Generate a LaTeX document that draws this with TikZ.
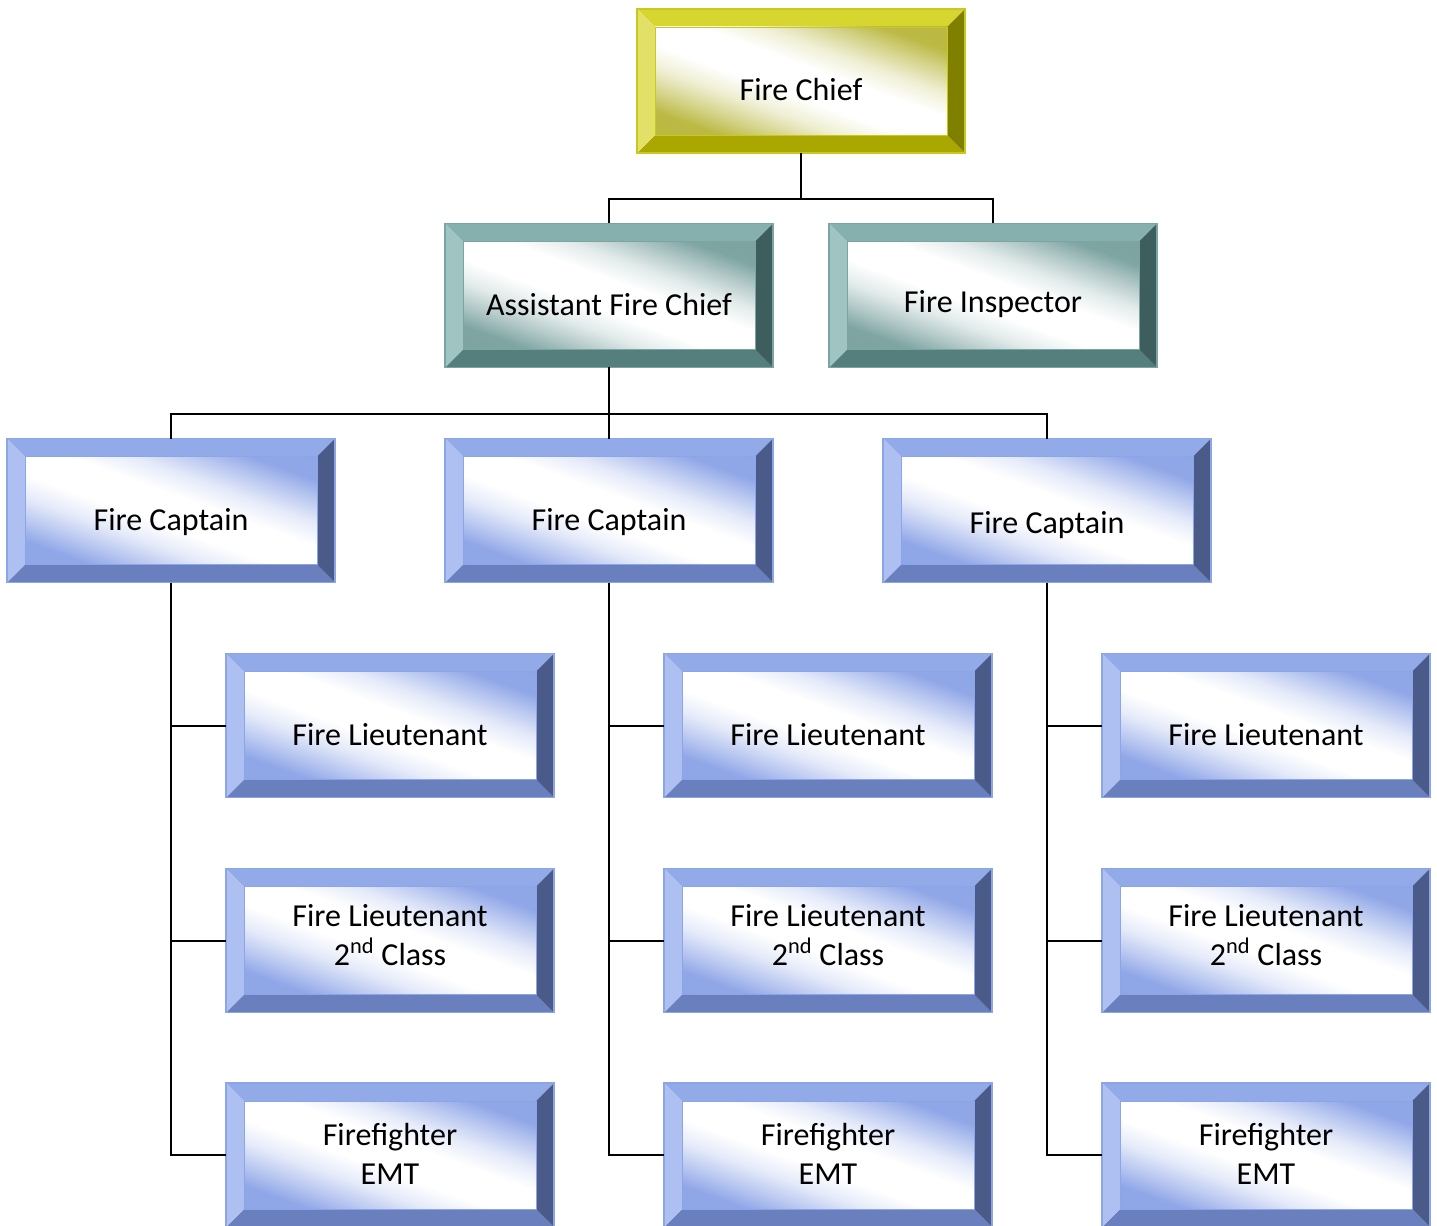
\documentclass[tikz,border=0pt]{standalone}
\usepackage{fontspec}
\setmainfont{Carlito}
% blue scheme
\definecolor{blT}{HTML}{93AAE9}
\definecolor{blL}{HTML}{AEC0F1}
\definecolor{blR}{HTML}{4A5B8A}
\definecolor{blB}{HTML}{6A80BE}
\definecolor{blG}{HTML}{8AA2E6}
\definecolor{blO}{HTML}{8CA5E8}
% teal scheme
\definecolor{tlT}{HTML}{86B0AE}
\definecolor{tlL}{HTML}{A0C4C2}
\definecolor{tlR}{HTML}{3E5E5D}
\definecolor{tlB}{HTML}{557F7D}
\definecolor{tlG}{HTML}{78A09E}
\definecolor{tlO}{HTML}{7BA5A3}
% yellow scheme
\definecolor{ylT}{HTML}{D7D530}
\definecolor{ylL}{HTML}{E2E066}
\definecolor{ylR}{HTML}{808000}
\definecolor{ylB}{HTML}{A9A700}
\definecolor{ylG}{HTML}{B8B63A}
\definecolor{ylO}{HTML}{C9C81E}
\pgfdeclareverticalshading{blS}{100bp}{color(0bp)=(blG); color(25bp)=(blG!95!white); color(31bp)=(blG!60!white); color(38bp)=(blG!22!white); color(45bp)=(white); color(55bp)=(white); color(62bp)=(blG!22!white); color(69bp)=(blG!60!white); color(75bp)=(blG!95!white); color(100bp)=(blG)}
\pgfdeclareverticalshading{tlS}{100bp}{color(0bp)=(tlG); color(25bp)=(tlG!95!white); color(31bp)=(tlG!60!white); color(38bp)=(tlG!22!white); color(45bp)=(white); color(55bp)=(white); color(62bp)=(tlG!22!white); color(69bp)=(tlG!60!white); color(75bp)=(tlG!95!white); color(100bp)=(tlG)}
\pgfdeclareverticalshading{ylS}{100bp}{color(0bp)=(ylG); color(25bp)=(ylG!95!white); color(31bp)=(ylG!60!white); color(38bp)=(ylG!22!white); color(45bp)=(white); color(55bp)=(white); color(62bp)=(ylG!22!white); color(69bp)=(ylG!60!white); color(75bp)=(ylG!95!white); color(100bp)=(ylG)}
\tikzset{
  bbx/.style={minimum width=246pt, minimum height=108pt, inner sep=0pt, outer sep=0pt, draw=none},
  boxtext/.style={font=\fontsize{24pt}{29.25pt}\selectfont, align=center, inner sep=0pt, text=black},
  conn/.style={draw=black, line width=1.5pt},
}
\newcommand\bevbox[6]{%
  \node[bbx] (#1) at (#2,#3) {};
  \fill[#4T] (#1.north west) -- (#1.north east) -- ([shift={(-13.5pt,-13.5pt)}]#1.north east) -- ([shift={(13.5pt,-13.5pt)}]#1.north west) -- cycle;
  \fill[#4B] (#1.south west) -- (#1.south east) -- ([shift={(-13.5pt,13.5pt)}]#1.south east) -- ([shift={(13.5pt,13.5pt)}]#1.south west) -- cycle;
  \fill[#4L] (#1.north west) -- ([shift={(13.5pt,-13.5pt)}]#1.north west) -- ([shift={(13.5pt,13.5pt)}]#1.south west) -- (#1.south west) -- cycle;
  \fill[#4R] (#1.north east) -- ([shift={(-13.5pt,-13.5pt)}]#1.north east) -- ([shift={(-13.5pt,13.5pt)}]#1.south east) -- (#1.south east) -- cycle;
  \shade[shading=#4S, shading angle=-20] ([shift={(13.5pt,-13.5pt)}]#1.north west) rectangle ([shift={(-13.5pt,13.5pt)}]#1.south east);
  \draw[#4O, line width=0.5pt] ([shift={(13.5pt,-13.5pt)}]#1.north west) rectangle ([shift={(-13.5pt,13.5pt)}]#1.south east);
  \draw[#4O, line width=0.9pt] (#1.north west) rectangle (#1.south east);
  \node[boxtext,#5] at (#1.center) {#6};
}
\begin{document}
\begin{tikzpicture}[x=0.75pt,y=-0.75pt]
\useasboundingbox (0,0) rectangle (1437,1226);
\fill[white] (0,0) rectangle (1437,1226);
\coordinate (j1) at (801,199);
\coordinate (j2) at (609,414);
% boxes
\bevbox{chief}{801}{81}{yl}{anchor=base,yshift=-15pt}{Fire Chief}
\bevbox{asst}{609}{295.5}{tl}{anchor=base,yshift=-15pt}{Assistant Fire Chief}
\bevbox{insp}{993}{295.5}{tl}{anchor=base,yshift=-12.4pt}{Fire Inspector}
\bevbox{capA}{171}{510.5}{bl}{anchor=base,yshift=-15pt}{Fire Captain}
\bevbox{capB}{609}{510.5}{bl}{anchor=base,yshift=-15pt}{Fire Captain}
\bevbox{capC}{1047}{510.5}{bl}{anchor=base,yshift=-16.9pt}{Fire Captain}
\bevbox{ltA}{390}{725.5}{bl}{anchor=base,yshift=-15pt}{Fire Lieutenant}
\bevbox{ltB}{828}{725.5}{bl}{anchor=base,yshift=-15pt}{Fire Lieutenant}
\bevbox{ltC}{1266}{725.5}{bl}{anchor=base,yshift=-15pt}{Fire Lieutenant}
\bevbox{scA}{390}{940.5}{bl}{yshift=3.75pt}{Fire Lieutenant\\2\textsuperscript{nd} Class}
\bevbox{scB}{828}{940.5}{bl}{yshift=3.75pt}{Fire Lieutenant\\2\textsuperscript{nd} Class}
\bevbox{scC}{1266}{940.5}{bl}{yshift=3.75pt}{Fire Lieutenant\\2\textsuperscript{nd} Class}
\bevbox{ffA}{390}{1155}{bl}{yshift=1pt}{Firefighter\\EMT}
\bevbox{ffB}{828}{1155}{bl}{yshift=1pt}{Firefighter\\EMT}
\bevbox{ffC}{1266}{1155}{bl}{yshift=1pt}{Firefighter\\EMT}
% connectors
\draw[conn] (chief.south) -- (j1) -| (asst.north);
\draw[conn] (j1) -| (insp.north);
\draw[conn] (asst.south) -- (capB.north);
\draw[conn] (j2) -| (capA.north);
\draw[conn] (j2) -| (capC.north);
\draw[conn] (capA.south) |- (ltA.west);
\draw[conn] (capA.south) |- (scA.west);
\draw[conn] (capA.south) |- (ffA.west);
\draw[conn] (capB.south) |- (ltB.west);
\draw[conn] (capB.south) |- (scB.west);
\draw[conn] (capB.south) |- (ffB.west);
\draw[conn] (capC.south) |- (ltC.west);
\draw[conn] (capC.south) |- (scC.west);
\draw[conn] (capC.south) |- (ffC.west);
\end{tikzpicture}
\end{document}
